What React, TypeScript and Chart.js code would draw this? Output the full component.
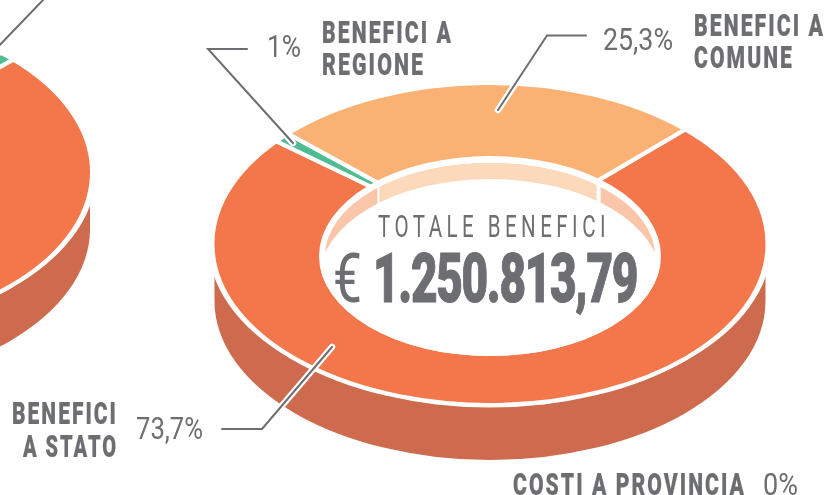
import React, { useEffect, useRef } from "react";
import { Chart, registerables } from "chart.js";

Chart.register(...registerables);

const mainCategories = ["Benefici a Stato", "Costi a Provincia", "Benefici a Regione", "Benefici a Comune"];
const mainValues = [73.7, 0, 1, 25.3];
const mainColors = ["#F4764B", "#F4764B", "#4FBC94", "#F9B274"];
const mainWalls = ["#FBC5A9", "#FBC5A9", "#FBC5A9", "#FDD9BC"];

const sideCategories = ["Regione", "Stato", "Comune"];
const sideValues = [1, 74, 25];
const sideColors = ["#4FBC94", "#F4764B", "#F9B274"];
const sideWalls = ["#FBC5A9", "#FBC5A9", "#FDD9BC"];

const DARK = "#CE6A4D";
const GRAY = "#6D6E71";
const RX = 275.5;
const SQUASH = 0.577;
const DEPTH = 57;
const BORDER = 6;

type Pt = [number, number];
const leaderLines: Pt[][] = [
  [[222, 429], [262, 429], [332, 347]],
  [[586, 35.5], [547, 35.5], [498, 110]],
  [[247, 49], [208, 49], [293, 143]],
  [[45, -2], [-6, 51]],
];

type Lab = { t: string; x: number; y: number; w: number; s: number; f: "b" | "l" | "m" | "big" | "sp" };
const labels: Lab[] = [
  { t: "BENEFICI A", x: 322, y: 43, w: 131, s: 31, f: "b" },
  { t: "REGIONE", x: 322, y: 75, w: 103, s: 31, f: "b" },
  { t: "1%", x: 267, y: 57, w: 34, s: 32, f: "l" },
  { t: "25,3%", x: 603, y: 50, w: 70, s: 32, f: "l" },
  { t: "BENEFICI A", x: 694, y: 36, w: 131, s: 31, f: "b" },
  { t: "COMUNE", x: 694, y: 68, w: 100, s: 31, f: "b" },
  { t: "BENEFICI", x: 12, y: 424, w: 106, s: 31, f: "b" },
  { t: "A STATO", x: 23, y: 457, w: 95, s: 31, f: "b" },
  { t: "73,7%", x: 136, y: 439, w: 67, s: 32, f: "l" },
  { t: "COSTI A PROVINCIA", x: 513, y: 495, w: 233, s: 31, f: "b" },
  { t: "0%", x: 763, y: 495, w: 35, s: 32, f: "l" },
  { t: "TOTALE BENEFICI", x: 378, y: 237, w: 232, s: 32, f: "sp" },
  { t: "€", x: 333, y: 302, w: 29, s: 68, f: "m" },
  { t: "1.250.813,79", x: 373, y: 302, w: 264, s: 69, f: "big" },
];

const fontStyle: Record<Lab["f"], { weight: number; spacing: number; stroke: number }> = {
  b: { weight: 900, spacing: 3, stroke: 0.2 },
  l: { weight: 400, spacing: 0, stroke: 0 },
  sp: { weight: 400, spacing: 7, stroke: 0 },
  m: { weight: 400, spacing: 0, stroke: 0 },
  big: { weight: 900, spacing: -2, stroke: 1.1 },
};

function ellipse(ctx: CanvasRenderingContext2D, x: number, y: number, rx: number, ry: number) {
  ctx.beginPath();
  ctx.ellipse(x, y, rx, ry, 0, 0, Math.PI * 2);
}

function make3d(cx: number, cy: number, walls: string[]) {
  const apply = (chart: any) => {
    const el = chart.getDatasetMeta(0).data[0];
    const ctx = chart.ctx;
    ctx.translate(cx, cy);
    ctx.scale(1, SQUASH);
    ctx.translate(-el.x, -el.y);
  };
  return {
    id: "tilt3d",
    beforeDatasetsDraw(chart: any) {
      const ctx = chart.ctx as CanvasRenderingContext2D;
      const ry = RX * SQUASH;
      // side wall of the ring
      ctx.save();
      ctx.fillStyle = DARK;
      ctx.beginPath();
      ctx.ellipse(cx, cy + DEPTH, RX, ry, 0, 0, Math.PI);
      ctx.ellipse(cx, cy, RX, ry, 0, Math.PI, Math.PI * 2);
      ctx.closePath();
      ctx.fill();
      ctx.fillStyle = "#fff";
      ellipse(ctx, cx, cy + 4.5, RX + 0.5, ry);
      ctx.fill();
      ctx.restore();
      ctx.save();
      apply(chart);
    },
    afterDatasetsDraw(chart: any) {
      const ctx = chart.ctx as CanvasRenderingContext2D;
      ctx.restore();
      const arcs = chart.getDatasetMeta(0).data;
      // hole, set slightly low for the perspective
      const hx = cx, hy = cy + 12;
      ctx.save();
      ctx.fillStyle = "#fff";
      ellipse(ctx, hx, hy, 171, 100);
      ctx.fill();
      ellipse(ctx, hx, hy, 165, 93);
      ctx.clip();
      const wallR = 155;
      const top = hy - 110;
      const bot = hy + 110;
      const order = arcs
        .map((a: any, i: number) => ({ p: a.getProps(["startAngle", "endAngle"], true), i }))
        .filter((o: any) => o.p.endAngle > o.p.startAngle)
        .sort((u: any, v: any) => v.p.endAngle - v.p.startAngle - (u.p.endAngle - u.p.startAngle));
      order.forEach(({ p, i }: any, rank: number) => {
        ctx.fillStyle = walls[i];
        if (rank === 0) {
          // the largest slice wraps round the whole hole
          ctx.fillRect(cx - 200, top, 400, bot - top);
          return;
        }
        // inner wall of a slice at the back, its edges falling straight down
        const sx = cx + wallR * Math.cos(p.startAngle);
        const ex = cx + wallR * Math.cos(p.endAngle);
        ctx.fillRect(Math.min(sx, ex), top, Math.abs(ex - sx), bot - top);
        if (walls[i] !== walls[order[0].i]) {
          ctx.strokeStyle = "#fff";
          ctx.lineWidth = 4;
          ctx.beginPath();
          ctx.moveTo(sx, top); ctx.lineTo(sx, bot);
          ctx.moveTo(ex, top); ctx.lineTo(ex, bot);
          ctx.stroke();
        }
      });
      ctx.restore();
      ctx.save();
      ellipse(ctx, hx, hy, 171, 100);
      ctx.clip();
      ctx.fillStyle = "#fff";
      ellipse(ctx, hx, hy + 23, 171, 100);
      ctx.fill();
      ctx.restore();
    },
  };
}

function buildChart(canvas: HTMLCanvasElement, cats: string[], vals: number[], cols: string[], walls: string[], rotation: number, cx: number, cy: number) {
  return new Chart(canvas, {
    type: "doughnut",
    data: {
      labels: cats,
      datasets: [{ data: vals, backgroundColor: cols, borderColor: "#fff", borderWidth: BORDER, clip: false } as any],
    },
    options: {
      responsive: false,
      animation: false,
      rotation,
      radius: RX + BORDER / 2,
      cutout: 130,
      layout: { padding: 0 },
      plugins: { legend: { display: false }, tooltip: { enabled: false } },
    } as any,
    plugins: [make3d(cx, cy, walls)],
  });
}

const leaderPlugin = {
  id: "leaders",
  afterDraw(chart: any) {
    const ctx = chart.ctx as CanvasRenderingContext2D;
    ctx.save();
    ctx.lineCap = "round";
    ctx.lineJoin = "miter";
    for (const pass of [0, 1]) {
      ctx.strokeStyle = pass ? GRAY : "#fff";
      ctx.lineWidth = pass ? 2 : 6.5;
      for (const line of leaderLines) {
        ctx.beginPath();
        line.forEach(([x, y], i) => (i ? ctx.lineTo(x, y) : ctx.moveTo(x, y)));
        ctx.stroke();
      }
    }
    ctx.restore();
  },
};

export default function App() {
  const sideRef = useRef<HTMLCanvasElement>(null);
  const mainRef = useRef<HTMLCanvasElement>(null);
  const lineRef = useRef<HTMLCanvasElement>(null);
  useEffect(() => {
    const a = buildChart(sideRef.current!, sideCategories, sideValues, sideColors, sideWalls, 42, -185.5, 172);
    const b = buildChart(mainRef.current!, mainCategories, mainValues, mainColors, mainWalls, 44.5, 490, 244);
    const c = new Chart(lineRef.current!, {
      type: "doughnut",
      data: { labels: [], datasets: [{ data: [] }] },
      options: { responsive: false, animation: false, plugins: { legend: { display: false }, tooltip: { enabled: false } } },
      plugins: [leaderPlugin],
    });
    return () => { a.destroy(); b.destroy(); c.destroy(); };
  }, []);
  const abs: React.CSSProperties = { position: "absolute", left: 0, top: 0 };
  return (
    <div style={{ position: "fixed", left: 0, top: 0, width: 824, height: 495, overflow: "hidden", background: "#fff" }}>
      <canvas ref={sideRef} width={824} height={495} style={abs} />
      <canvas ref={mainRef} width={824} height={495} style={abs} />
      <canvas ref={lineRef} width={824} height={495} style={abs} />
      <svg width={824} height={495} style={abs}>
        {labels.map((l, i) => {
          const st = fontStyle[l.f];
          return (
            <text
              key={i}
              x={l.x}
              y={l.y}
              textLength={l.w}
              lengthAdjust="spacingAndGlyphs"
              fontSize={l.s}
              letterSpacing={st.spacing}
              fill={GRAY}
              stroke={st.stroke ? GRAY : "none"}
              strokeWidth={st.stroke}
              fontFamily="Roboto, sans-serif"
              fontWeight={st.weight}
            >
              {l.t}
            </text>
          );
        })}
      </svg>
    </div>
  );
}
